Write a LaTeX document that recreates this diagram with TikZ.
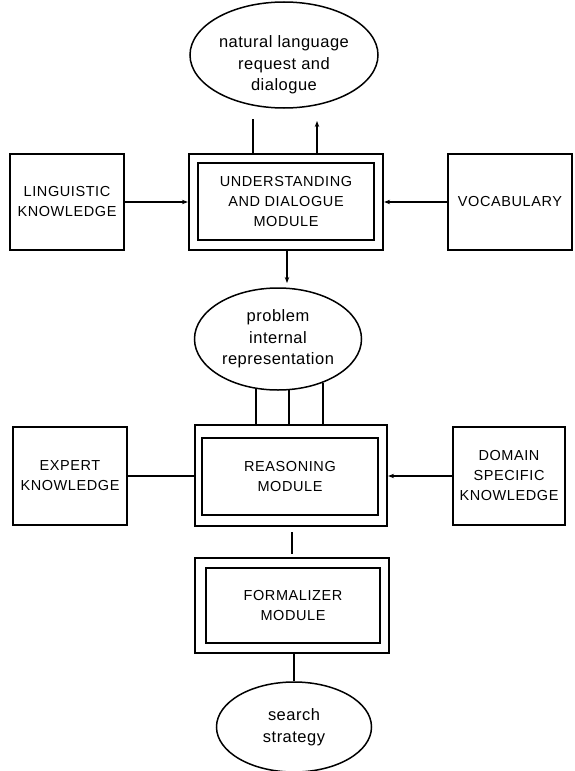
\documentclass[tikz,border=0pt]{standalone}
\usepackage{fontspec}
\setmainfont{Liberation Sans}
\newfontfamily\capsfont[LetterSpace=4]{Liberation Sans}
\newfontfamily\lowfont[LetterSpace=3]{Liberation Sans}
\usetikzlibrary{shapes.geometric,arrows.meta}
\begin{document}
\begin{tikzpicture}[x=1pt,y=-1pt,
  every node/.style={align=center, inner sep=0pt, font=\capsfont\fontsize{14.5}{20}\selectfont},
  outerbox/.style={draw, line width=2.2pt},
  innerbox/.style={draw, line width=1.1pt},
  plainbox/.style={draw, line width=1.8pt},
  ell/.style={draw, ellipse, line width=1.5pt, font=\lowfont\fontsize{16.5}{21.5}\selectfont},
  lc/.style={font=\lowfont\fontsize{16.5}{21.5}\selectfont},
  conn/.style={line width=1.7pt},
  arr/.style={conn, -{Stealth[length=6pt,width=4.5pt]}}]
\useasboundingbox (0,0) rectangle (575,771);

% understanding and dialogue module with its neighbours
\node[outerbox, minimum width=194, minimum height=96] (und) at (286,202) {};
\node[innerbox, minimum width=176, minimum height=77] (undi) at (286,201.5)
  {UNDERSTANDING\\AND DIALOGUE\\MODULE};
\node[plainbox, minimum width=114, minimum height=96] (ling) at (67,202)
  {LINGUISTIC\\KNOWLEDGE};
\node[plainbox, minimum width=124, minimum height=96] (voc) at (510,202)
  {VOCABULARY};

% dialogue ellipse on top
\node[ell, minimum width=188, minimum height=106] (nl) at (284,55) {};
\node[lc] (nltext) at (284,65) {natural language\\request and\\dialogue};

% internal representation
\node[ell, minimum width=167, minimum height=102] (prob) at (278,339)
  {problem\\internal\\representation};

% reasoning module with its knowledge sources
\node[outerbox, minimum width=192, minimum height=101] (reas) at (291,475.5) {};
\node[innerbox, minimum width=176, minimum height=77] (reasi) at (290,476.5)
  {REASONING\\MODULE};
\node[plainbox, minimum width=114, minimum height=98] (exp) at (70,476)
  {EXPERT\\KNOWLEDGE};
\node[plainbox, minimum width=112, minimum height=98] (dom) at (509,476)
  {DOMAIN\\SPECIFIC\\KNOWLEDGE};

% formalizer and output
\node[outerbox, minimum width=194, minimum height=95] (form) at (292,605.5) {};
\node[innerbox, minimum width=174, minimum height=75] (formi) at (293,605.5)
  {FORMALIZER\\MODULE};
\node[ell, minimum width=155, minimum height=90] (srch) at (294,727)
  {search\\strategy};

% free ends and column positions of the connectors
\coordinate (nlL) at (253,119);
\coordinate (nlR) at (317,121);
\coordinate (pin) at (287,283);
\coordinate (rf) at (292,540);

% connectors
\draw[conn] (und.north -| nlL) -- (nlL);
\draw[arr] (und.north -| nlR) -- (nlR);
\draw[arr] (und.south -| pin) -- (pin);
\draw[arr] (ling.east) -- (ling.east -| und.west);
\draw[arr] (voc.west) -- (voc.west -| und.east);
\draw[conn] (prob.246) -- (prob.246 |- reas.north);
\draw[conn] (prob.282) -- (prob.282 |- reas.north);
\draw[conn] (prob.316) -- (prob.316 |- reas.north);
\draw[conn] (exp.east) -- (exp.east -| reas.west);
\draw[arr] (dom.west) -- (dom.west -| reas.east);
\draw[conn, shorten <=5pt, shorten >=3pt] (reas.south -| rf) -- (form.north -| rf);
\draw[conn] (form.south -| srch.north) -- (srch.north);
\end{tikzpicture}
\end{document}
